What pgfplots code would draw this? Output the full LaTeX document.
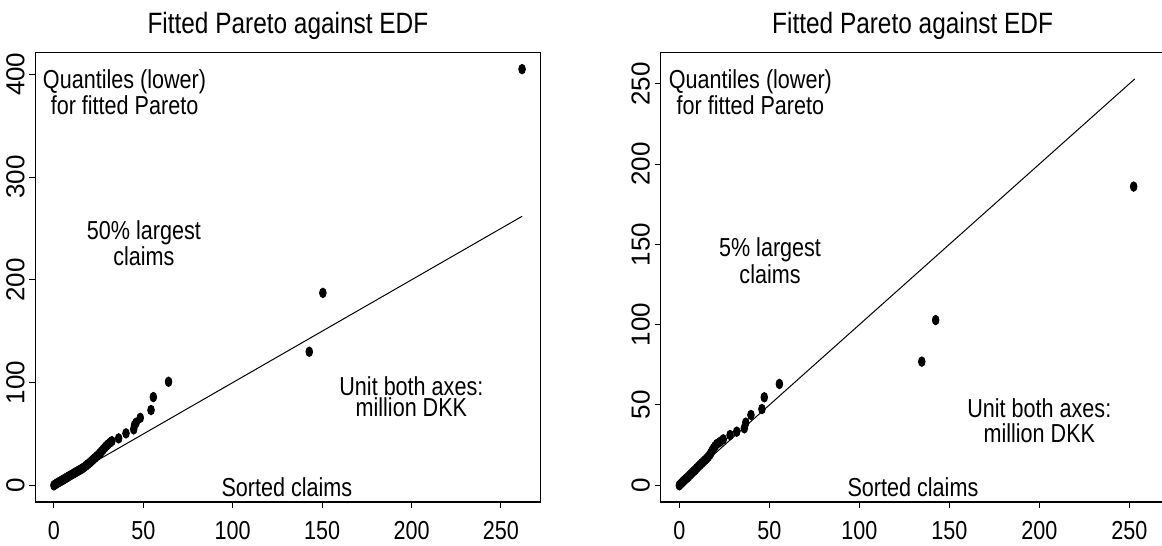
\documentclass[border=0pt]{standalone}
\usepackage{fontspec}
\setmainfont{Liberation Sans}[FakeStretch=0.83]
\newfontfamily\ytfont{Liberation Sans}
\usepackage{pgfplots}
\pgfplotsset{compat=1.18}
\newcommand{\tf}[1]{\fontsize{13}{#1}\selectfont}
\pgfplotsset{rplot/.style={
  scale only axis,
  height=224.85pt,
  axis line style={line width=0.6pt},
  tick align=outside, tick pos=left,
  major tick length=3pt,
  every tick/.style={black, line width=0.5pt},
  /pgf/number format/assume math mode=true,
  xticklabel style={font=\fontsize{13}{15}\selectfont, anchor=north, inner sep=0pt},
  xticklabel shift=6.5pt,
  yticklabel style={font=\ytfont\fontsize{13}{15}\selectfont, rotate=90, anchor=south, inner sep=0pt},
  yticklabel shift=2.2pt,
  every axis title/.style={at={(0.5,1)}, anchor=base, yshift=9.6pt, font=\fontsize{14.7}{17}\selectfont},
  clip=false,
}}
\begin{document}
\begin{tikzpicture}
% ---------- left panel: 50% largest claims ----------
\begin{axis}[rplot, at={(17.75pt,22pt)}, anchor=south west, width=252.4pt,
  xmin=-10.3, xmax=272, ymin=-16.2, ymax=421.4,
  xtick={0,50,100,150,200,250}, ytick={0,100,200,300,400},
  title={Fitted Pareto against EDF}]
\addplot[black, line width=0.5pt, no marks] coordinates {(0,0) (261.8,261.8)};
\addplot[only marks, mark=*, mark size=2.4pt, mark options={xscale=0.7, fill=black, draw=black}] coordinates {
(0,0) (0.8,1) (1.6,1.9) (2.5,2.8) (3.4,3.7) (4.3,4.6) (5.3,5.6) (6.3,6.7) (7.3,7.7) (8.3,8.8)
(9.4,9.9) (10.5,11) (11.6,12.1) (12.7,13.2) (13.8,14.3) (14.9,15.4) (16,16.6) (17,17.8) (18,19.2)
(19,20.6) (20,22) (21,23.6) (22,25.2) (23,26.8) (24,28.4) (25,30) (25.8,31.4) (26.6,33) (27.5,34.8)
(28.4,36.6) (29.3,38.3) (30.2,39.8) (31.3,41.5) (32.4,43)
(36.2,45.7) (40.3,50.6) (44.6,54.5) (45.1,58.7) (46,61) (48.3,65.7) (54.3,73.3) (55.6,85.9)
(64.1,100.8) (142.8,130) (150.4,187.3) (261.8,405)
};
\node[align=center, font=\tf{10pt}] at (axis cs:39.5,382.3) {Quantiles (lower)\\for fitted Pareto};
\node[align=center, font=\tf{10.5pt}] at (axis cs:50.3,235.6) {50\% largest\\claims};
\node[align=center, font=\tf{10.6pt}] at (axis cs:199.9,86.6) {Unit both axes:\\million DKK};
\node[font=\tf{15pt}] at (axis cs:130.3,-2.1) {Sorted claims};
\end{axis}
% ---------- right panel: 5% largest claims ----------
\begin{axis}[rplot, at={(330.3pt,22pt)}, anchor=south west, width=252pt,
  xmin=-10.4, xmax=269.6, ymin=-10.4, ymax=269.6,
  xtick={0,50,100,150,200,250}, ytick={0,50,100,150,200,250},
  title={Fitted Pareto against EDF}]
\addplot[black, line width=0.5pt, no marks] coordinates {(0,0) (253,253)};
\addplot[only marks, mark=*, mark size=2.4pt, mark options={xscale=0.7, fill=black, draw=black}] coordinates {
(0,0) (0.7,0.8) (1.4,1.6) (2.1,2.4) (2.8,3.1) (3.5,3.9) (4.2,4.6) (5,5.4) (5.8,6.3) (6.6,7.2)
(7.4,8.1) (8.2,9) (9,9.8) (9.8,10.8) (10.7,11.8) (11.6,12.8) (12.5,13.8) (13.4,14.8) (14.3,15.7)
(15.2,16.7) (16.1,17.8) (16.9,19) (17.6,20.3) (18.3,21.7) (19,23) (19.8,24.3) (20.8,25.7)
(22.5,27) (24.4,28.6) (28.2,31.3) (31.9,33.4) (36.1,35.5) (36.9,39) (39.8,43.8) (45.9,47.5)
(47.2,54.8) (55.6,63.1) (134.7,77) (142.4,102.9) (252.4,186)
};
\node[align=center, font=\tf{10pt}] at (axis cs:39.5,244.6) {Quantiles (lower)\\for fitted Pareto};
\node[align=center, font=\tf{11.5pt}] at (axis cs:50.4,139.8) {5\% largest\\claims};
\node[align=center, font=\tf{12.3pt}] at (axis cs:200,40.3) {Unit both axes:\\million DKK};
\node[font=\tf{15pt}] at (axis cs:129.8,-1.4) {Sorted claims};
\end{axis}
\pgfresetboundingbox
\useasboundingbox (0,0) rectangle (581pt,273pt);
\end{tikzpicture}
\end{document}
